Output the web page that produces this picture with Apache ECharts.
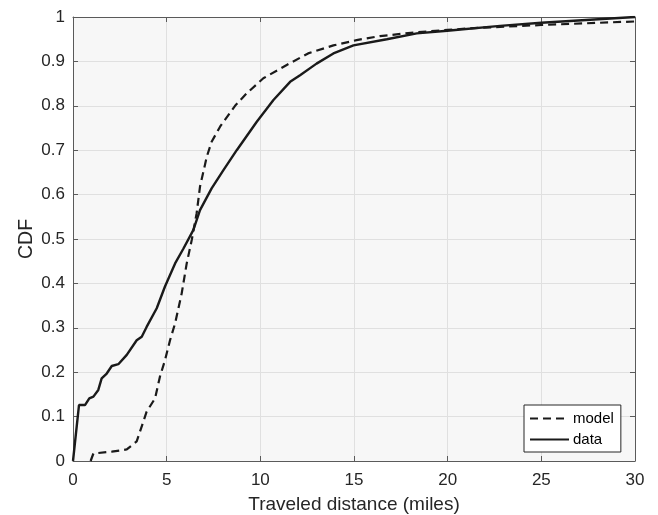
<!DOCTYPE html>
<html>
<head>
<meta charset="utf-8">
<script src="https://cdn.jsdelivr.net/npm/echarts@6/dist/echarts.min.js"></script>
<style>
  html, body { margin: 0; padding: 0; background: #fff; }
  #chart { width: 658px; height: 515px; }
</style>
</head>
<body>
<div id="chart"></div>
<script>
// values
var modelX = [0.94, 1.09, 2.07, 2.87, 3.4, 3.93, 4.38, 4.64, 4.91, 5.18, 5.45, 5.8, 6.07, 6.34, 6.6, 6.78, 7.14, 7.4, 7.85, 8.65, 9.27, 10.16, 11.41, 12.55, 13.9, 15.14, 16.39, 18.2, 20.0, 21.4, 25.0, 30.0];
var modelY = [0, 0.017, 0.021, 0.026, 0.044, 0.111, 0.141, 0.19, 0.227, 0.272, 0.31, 0.377, 0.445, 0.498, 0.558, 0.618, 0.685, 0.719, 0.753, 0.8, 0.828, 0.862, 0.892, 0.918, 0.936, 0.948, 0.957, 0.965, 0.971, 0.975, 0.982, 0.99];

var dataX = [0, 0.32, 0.64, 0.87, 1.09, 1.35, 1.53, 1.8, 2.07, 2.42, 2.87, 3.4, 3.67, 3.93, 4.47, 4.91, 5.45, 5.89, 6.42, 6.78, 7.4, 8.03, 8.74, 9.81, 10.7, 11.59, 12.12, 13.0, 13.9, 14.97, 16.75, 18.35, 19.98, 22.8, 25.0, 30.0];
var dataY = [0, 0.126, 0.126, 0.141, 0.145, 0.16, 0.186, 0.197, 0.214, 0.218, 0.239, 0.272, 0.28, 0.302, 0.344, 0.393, 0.445, 0.478, 0.52, 0.565, 0.614, 0.655, 0.70, 0.764, 0.813, 0.854, 0.869, 0.895, 0.918, 0.936, 0.95, 0.963, 0.969, 0.98, 0.987, 1.0];

var xTicks = [0, 5, 10, 15, 20, 25, 30];
var yTicks = [0, 0.1, 0.2, 0.3, 0.4, 0.5, 0.6, 0.7, 0.8, 0.9, 1];

function pairs(xs, ys) {
    var out = [];
    for (var i = 0; i < xs.length; i++) {
        out.push([xs[i], ys[i]]);
    }
    return out;
}

var font = 'Liberation Sans, Arial, sans-serif';
var textColor = '#262626';
var lineColor = '#5a5a5a';

var chart = echarts.init(document.getElementById('chart'));
var boxAxis = {
    axisLine: { show: true, onZero: false, lineStyle: { color: lineColor, width: 1 } },
    axisTick: { show: true, inside: true, length: 5, lineStyle: { color: lineColor } },
    axisLabel: { show: false },
    splitLine: { show: false }
};

chart.setOption({
    animation: false,
    backgroundColor: '#ffffff',
    grid: {
        left: 73, top: 17, right: 23, bottom: 54,
        outerBoundsMode: 'none', containLabel: false,
        show: true, backgroundColor: '#f7f7f7', borderWidth: 0
    },
    legend: {
        left: 524, top: 405,
        orient: 'vertical',
        itemWidth: 39, itemHeight: 14, itemGap: 6,
        padding: [6, 7, 5, 5],
        backgroundColor: '#ffffff',
        borderColor: textColor, borderWidth: 1, borderRadius: 0,
        itemStyle: { opacity: 0 },
        textStyle: { fontFamily: font, fontSize: 15, color: '#000', lineHeight: 14, padding: [0, 0, 0, -1] },
        data: ['model', 'data']
    },
    xAxis: [{
        type: 'value', min: 0, max: 30, interval: 5,
        name: 'Traveled distance (miles)', nameLocation: 'middle', nameGap: 34,
        nameTextStyle: { fontFamily: font, fontSize: 19, color: textColor },
        axisLine: { show: true, onZero: false, lineStyle: { color: lineColor } },
        axisTick: { show: true, inside: true, length: 5, lineStyle: { color: lineColor } },
        axisLabel: { fontFamily: font, fontSize: 17, color: textColor, margin: 11,
            customValues: xTicks },
        splitLine: { show: true, lineStyle: { color: '#e0e0e0', width: 1 } }
    }, Object.assign({ type: 'value', min: 0, max: 30, interval: 5, position: 'top' }, boxAxis)],
    yAxis: [{
        type: 'value', min: 0, max: 1, interval: 0.1,
        name: 'CDF', nameLocation: 'middle', nameGap: 36, nameMoveOverlap: false,
        nameTextStyle: { fontFamily: font, fontSize: 19.5, color: textColor },
        axisLine: { show: true, onZero: false, lineStyle: { color: lineColor } },
        axisTick: { show: true, inside: true, length: 5, lineStyle: { color: lineColor } },
        axisLabel: {
            fontFamily: font, fontSize: 17, color: textColor, margin: 8,
            customValues: yTicks,
            formatter: function (v) { return String(Math.round(v * 10) / 10); }
        },
        splitLine: { show: true, lineStyle: { color: '#e0e0e0', width: 1 } }
    }, Object.assign({ type: 'value', min: 0, max: 1, interval: 0.1, position: 'right' }, boxAxis)],
    series: [{
        name: 'model', type: 'line', showSymbol: false, symbol: 'none',
        data: pairs(modelX, modelY),
        lineStyle: { color: '#1a1a1a', width: 2.2, type: [8, 5] },
        itemStyle: { color: '#1a1a1a' },
        z: 3
    }, {
        name: 'data', type: 'line', showSymbol: false, symbol: 'none',
        data: pairs(dataX, dataY),
        lineStyle: { color: '#1a1a1a', width: 2.4 },
        itemStyle: { color: '#1a1a1a' },
        z: 4
    }]
});
</script>
</body>
</html>
